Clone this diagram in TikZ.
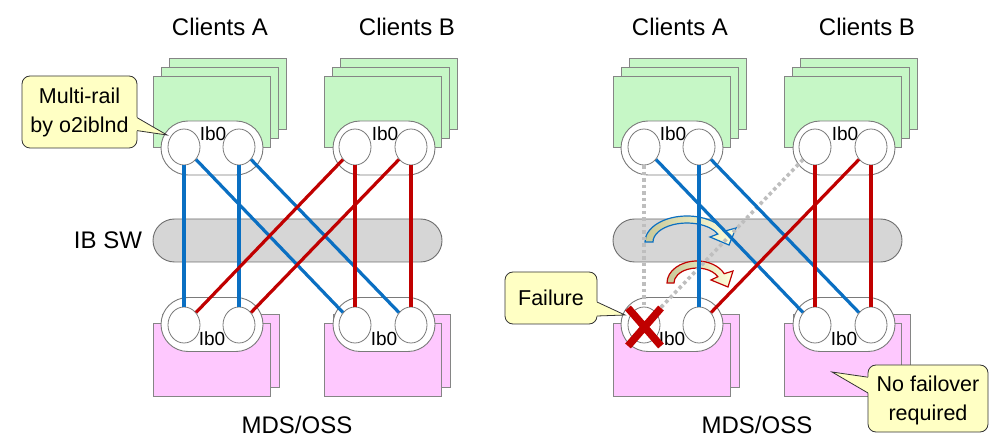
\documentclass[tikz,border=0pt]{standalone}
\usepackage{fontspec}
\setmainfont{Liberation Sans}
\usetikzlibrary{shapes.geometric}
\definecolor{cgreen}{HTML}{C6F7C6}
\definecolor{cpink}{HTML}{FEC8FE}
\definecolor{boxline}{HTML}{858585}
\definecolor{ovline}{HTML}{7A7A7A}
\definecolor{barfill}{HTML}{D6D6D6}
\definecolor{barline}{HTML}{6E6E6E}
\definecolor{lblue}{HTML}{0A6FC2}
\definecolor{lred}{HTML}{C00000}
\definecolor{lgray}{HTML}{BEBEBE}
\definecolor{cyellow}{HTML}{FFFFC4}
\definecolor{akhaki}{HTML}{C8C898}
\definecolor{ayellow}{HTML}{FFFFDC}
\begin{document}
\begin{tikzpicture}[x=1pt,y=-1pt,
  gbox/.style={draw=boxline, fill=cgreen, line width=0.8pt, minimum width=117pt, minimum height=71pt, inner sep=0pt, anchor=north west},
  pbox/.style={draw=boxline, fill=cpink, line width=0.8pt, minimum width=117pt, minimum height=73pt, inner sep=0pt, anchor=north west},
  oval/.style={draw=ovline, fill=white, rounded corners=27pt, minimum width=102pt, minimum height=54pt, inner sep=0pt, line width=0.9pt},
  port/.style={ellipse, draw=ovline, fill=white, minimum width=32pt, minimum height=36pt, inner sep=0pt, line width=0.8pt},
  swbar/.style={draw=barline, fill=barfill, rounded corners=21.5pt, minimum width=289pt, minimum height=43pt, inner sep=0pt, line width=0.9pt},
  lbl/.style={font=\fontsize{24}{28}\selectfont, inner sep=0pt},
  iblbl/.style={font=\fontsize{19}{21}\selectfont, inner sep=0pt},
  ctext/.style={font=\fontsize{21.5}{29}\selectfont, align=center, inner sep=0pt},
  bl/.style={draw=lblue, line width=3.2pt},
  rl/.style={draw=lred, line width=3.2pt},
  gl/.style={draw=lgray, line width=3.6pt, dash pattern=on 3.5pt off 3pt},
  callout/.style={fill=cyellow, draw=black!80, line width=0.8pt, rounded corners=8pt},
  cedge/.style={draw=black!80, line width=0.8pt},
  xmark/.style={draw=lred, line width=7.5pt},
  farrow/.style={left color=akhaki, right color=ayellow, line width=1.2pt}
]
\useasboundingbox (0,0) rectangle (991,438);

\foreach \p/\dx in {L/0,R/460}{
  % client boxes
  \node[gbox] (\p Ab3) at (169+\dx,58) {};
  \node[gbox] (\p Ab2) at (161+\dx,67) {};
  \node[gbox] (\p Ab1) at (153+\dx,76) {};
  \node[gbox] (\p Bb3) at (340+\dx,58) {};
  \node[gbox] (\p Bb2) at (332+\dx,67) {};
  \node[gbox] (\p Bb1) at (324+\dx,76) {};
  % server boxes
  \node[pbox] (\p Sb2) at (162+\dx,314) {};
  \node[pbox] (\p Sb1) at (153+\dx,323) {};
  \node[pbox] (\p Tb2) at (333+\dx,314) {};
  \node[pbox] (\p Tb1) at (324+\dx,323) {};
  % ovals
  \node[oval] (\p Ao) at (212+\dx,148) {};
  \node[oval] (\p Bo) at (384+\dx,148) {};
  \node[oval] (\p So) at (212+\dx,324.5) {};
  \node[oval] (\p To) at (384+\dx,324.5) {};
  % ports
  \node[port] (\p A1) at (184+\dx,147) {};
  \node[port] (\p A2) at (239+\dx,147) {};
  \node[port] (\p B1) at (355+\dx,147) {};
  \node[port] (\p B2) at (411+\dx,147) {};
  \node[port] (\p S1) at (184+\dx,325) {};
  \node[port] (\p S2) at (239+\dx,325) {};
  \node[port] (\p T1) at (355+\dx,325) {};
  \node[port] (\p T2) at (411+\dx,325) {};
  % ib0 labels
  \node[iblbl] (\p Ai) at (213+\dx,134) {Ib0};
  \node[iblbl] (\p Bi) at (385+\dx,134) {Ib0};
  \node[iblbl] (\p Si) at (212+\dx,339) {Ib0};
  \node[iblbl] (\p Ti) at (384+\dx,339) {Ib0};
  % switch bar
  \node[swbar] (\p bar) at (297.5+\dx,240.5) {};
  % titles
  \node[lbl] (\p tA) at (220+\dx,27) {Clients A};
  \node[lbl] (\p tB) at (407+\dx,27) {Clients B};
  \node[lbl] (\p tS) at (297+\dx,425) {MDS/OSS};
}
\node[lbl] (ibsw) at (108,240) {IB SW};

% failover arrows (right panel)
\shadedraw[farrow, draw=lblue]
  (645,242) arc[start angle=180, end angle=335, x radius=42, y radius=26]
  -- (736,228) -- (729,245) -- (710,237) -- (717.8,234)
  arc[start angle=335, end angle=180, x radius=34, y radius=19] -- cycle;
\shadedraw[farrow, draw=lred]
  (667,283) arc[start angle=180, end angle=335, x radius=30, y radius=22]
  -- (733,271) -- (728,287) -- (711,280) -- (717.8,276.7)
  arc[start angle=335, end angle=180, x radius=23, y radius=15] -- cycle;

% left panel links
\draw[bl] (LA1) -- (LS1);
\draw[bl] (LA2) -- (LS2);
\draw[bl] (LA1) -- (LT1);
\draw[bl] (LA2) -- (LT2);
\draw[rl] (LB1) -- (LS1);
\draw[rl] (LB2) -- (LS2);
\draw[rl] (LB1) -- (LT1);
\draw[rl] (LB2) -- (LT2);

% right panel links
\draw[gl] (RA1) -- (RS1);
\draw[gl] (RB1) -- (RS1);
\draw[bl] (RA2) -- (RS2);
\draw[bl] (RA1) -- (RT1);
\draw[bl] (RA2) -- (RT2);
\draw[rl] (RB2) -- (RS2);
\draw[rl] (RB1) -- (RT1);
\draw[rl] (RB2) -- (RT2);

% failure mark
\draw[xmark] (628,308) -- (661,346) (661,308) -- (628,346);

% callouts
\path[callout] (22,76) rectangle (137,148);
\fill[cyellow] (136,117) -- (167,135) -- (136,131) -- cycle;
\draw[cedge] (137,117.6) -- (167,135) -- (137,130.6);
\node[ctext] (mr) at (79.5,112) {Multi-rail\\by o2iblnd};

\path[callout] (505,272) rectangle (597,324);
\fill[cyellow] (596,301.5) -- (625,315) -- (596,316.5) -- cycle;
\draw[cedge] (597,302) -- (625,315) -- (597,316);
\node[ctext] (fl) at (551,298) {Failure};

\path[callout] (868,365) rectangle (988,432);
\fill[cyellow] (869,377) -- (832,372) -- (869,393.5) -- cycle;
\draw[cedge] (868,377.2) -- (832,372) -- (868,393);
\node[ctext] (nf) at (928,400) {No failover\\required};
\end{tikzpicture}
\end{document}
